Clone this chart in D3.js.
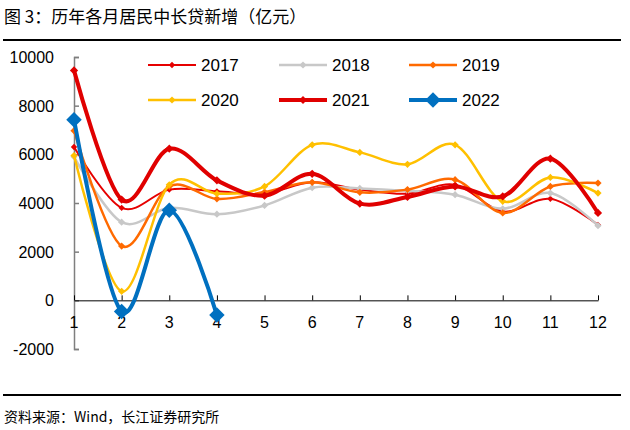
<!DOCTYPE html>
<html>
<head>
<meta charset="utf-8">
<script src="https://cdn.jsdelivr.net/npm/d3@7"></script>
<style>
  body { margin: 0; background: #fff; }
  text { font-family: "Liberation Sans", Arial, sans-serif; }
</style>
</head>
<body>
<div id="body"></div>
<script>
var months = [1, 2, 3, 4, 5, 6, 7, 8, 9, 10, 11, 12];
var yTicks = [-2000, 0, 2000, 4000, 6000, 8000, 10000];

var v2017 = [6300, 3800, 4550, 4480, 4380, 4850, 4550, 4380, 4750, 3650, 4170, 3100];
var v2018 = [5900, 3210, 3800, 3540, 3900, 4630, 4600, 4500, 4340, 3760, 4410, 3070];
var v2019 = [6970, 2230, 4680, 4170, 4450, 4850, 4440, 4550, 4960, 3590, 4680, 4820];
var v2020 = [5950, 370, 4750, 4385, 4680, 6390, 6080, 5590, 6390, 4070, 5050, 4410];
var v2021 = [9450, 4140, 6230, 4930, 4300, 5200, 3975, 4250, 4680, 4270, 5820, 3590];
var v2022 = [7424, -459, 3700, -605];

var series = [
  { name: "2017", values: v2017, color: "#e60000", width: 2, marker: 20 },
  { name: "2018", values: v2018, color: "#c8c8c8", width: 2.5, marker: 26 },
  { name: "2019", values: v2019, color: "#ff6a00", width: 2.5, marker: 26 },
  { name: "2020", values: v2020, color: "#ffc000", width: 2.5, marker: 26 },
  { name: "2021", values: v2021, color: "#e00000", width: 4, marker: 34 },
  { name: "2022", values: v2022, color: "#0070c0", width: 4, marker: 120 }
];

var width = 630;
var height = 430;

var svg = d3
  .select("#body")
  .append("svg")
  .attr("width", width)
  .attr("height", height);

var x = d3.scaleLinear().domain([1, 12]).range([74, 598]);
var y = d3.scaleLinear().domain([-2000, 10000]).range([349, 57]);

// title + rules
svg.append("text")
  .attr("x", 4)
  .attr("y", 23)
  .attr("font-size", 17)
  .style("font-family", "'Noto Sans CJK SC', sans-serif")
  .text("图 3：历年各月居民中长贷新增（亿元）");

svg.append("line").attr("x1", 3).attr("x2", 621).attr("y1", 40).attr("y2", 40)
  .attr("stroke", "#000").attr("stroke-width", 2);
svg.append("line").attr("x1", 3).attr("x2", 621).attr("y1", 395).attr("y2", 395)
  .attr("stroke", "#000").attr("stroke-width", 2);

svg.append("text")
  .attr("x", 4)
  .attr("y", 422)
  .attr("font-size", 14)
  .style("font-family", "'Noto Sans CJK SC', sans-serif")
  .text("资料来源：Wind，长江证券研究所");

// y axis
var yAxis = svg.append("g")
  .attr("transform", "translate(" + x(1) + ",0)")
  .call(d3.axisRight(y).tickValues(yTicks).tickSize(5).tickFormat(""));
yAxis.select(".domain").attr("stroke", "#7f7f7f").attr("stroke-width", 1.5);
yAxis.selectAll(".tick line").attr("stroke", "#7f7f7f").attr("stroke-width", 1.5);

svg.append("g")
  .selectAll("text")
  .data(yTicks)
  .enter()
  .append("text")
  .attr("x", 54)
  .attr("y", function (d) { return y(d) + 6; })
  .attr("text-anchor", "end")
  .attr("font-size", 16)
  .text(function (d) { return d; });

// x axis at zero
var xAxis = svg.append("g")
  .attr("transform", "translate(0," + y(0) + ")")
  .call(d3.axisTop(x).tickValues(months).tickSize(5).tickSizeOuter(0).tickFormat(""));
xAxis.select(".domain").attr("stroke", "#000").attr("stroke-width", 1);
xAxis.selectAll(".tick line").attr("stroke", "#000");

svg.append("g")
  .selectAll("text")
  .data(months)
  .enter()
  .append("text")
  .attr("x", function (d) { return x(d); })
  .attr("y", y(0) + 28)
  .attr("text-anchor", "middle")
  .attr("font-size", 16)
  .text(function (d) { return d; });

// lines
var line = d3.line()
  .x(function (d, i) { return x(months[i]); })
  .y(function (d) { return y(d); })
  .curve(d3.curveCatmullRom.alpha(0));

// square turned 45deg = excel diamond
function marker(size) {
  return d3.symbol().type(d3.symbolSquare).size(size)();
}

var plot = svg.append("g");

series.forEach(function (s) {
  plot.append("path")
    .datum(s.values)
    .attr("d", line)
    .attr("fill", "none")
    .attr("stroke", s.color)
    .attr("stroke-width", s.width)
    .attr("stroke-linejoin", "round");

  plot.selectAll(".m" + s.name)
    .data(s.values)
    .enter()
    .append("path")
    .attr("d", marker(s.marker))
    .attr("transform", function (d, i) {
      return "translate(" + x(months[i]) + "," + y(d) + ") rotate(45)";
    })
    .attr("fill", s.color);
});

// legend
var legendX = [148, 279, 409];
var legendY = [65, 100];
series.forEach(function (s, i) {
  var lx = legendX[i % 3];
  var ly = legendY[Math.floor(i / 3)];
  var g = svg.append("g").attr("transform", "translate(" + lx + "," + ly + ")");
  g.append("line").attr("x1", 0).attr("x2", 48).attr("y1", 0).attr("y2", 0)
    .attr("stroke", s.color).attr("stroke-width", s.width);
  g.append("path")
    .attr("d", marker(s.marker))
    .attr("transform", "translate(24,0) rotate(45)")
    .attr("fill", s.color);
  g.append("text")
    .attr("x", 53)
    .attr("y", 6)
    .attr("font-size", 17)
    .text(s.name);
});
</script>
</body>
</html>
